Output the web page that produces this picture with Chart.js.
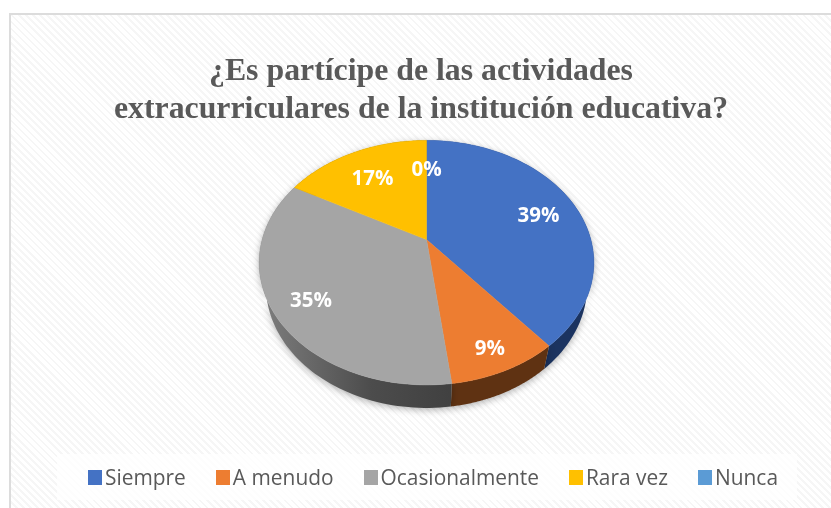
<!DOCTYPE html>
<html>
<head>
<meta charset="utf-8">
<script src="https://cdn.jsdelivr.net/npm/chart.js@4"></script>
<style>
    html, body { margin: 0; padding: 0; background: #fff; }
    #frame { position: relative; width: 831px; height: 508px; overflow: hidden; }
    #panel {
        position: absolute; left: 9px; top: 13px; right: 0; bottom: 0;
        border-top: 2px solid #dcdcdc; border-left: 2px solid #dcdcdc;
        background: repeating-linear-gradient(45deg, #fff 0 3px, #f6f6f6 3px 5px);
    }
    canvas { position: absolute; left: 0; top: 0; }
    #legend {
        position: absolute; left: 57px; top: 454px; width: 709px; height: 46px; padding-left: 31px;
        display: flex; align-items: center; gap: 30px; background: rgba(255,255,255,0.75);
        font: 20.9px "Open Sans", sans-serif; color: #595959;
    }
    #legend div { display: flex; align-items: center; gap: 3px; white-space: nowrap; }
    #legend span { display: block; width: 14px; height: 15px; }
</style>
</head>
<body>
<div id="frame">
    <div id="panel"></div>
    <canvas id="pie" width="831" height="508"></canvas>
    <div id="legend"></div>
</div>
<script>
const categories = ['Siempre', 'A menudo', 'Ocasionalmente', 'Rara vez', 'Nunca'];
const percents = [39, 9, 35, 17, 0];
const titleLines = ['¿Es partícipe de las actividades', 'extracurriculares de la institución educativa?'];
const sliceColors = ['#4472C4', '#ED7D31', '#A5A5A5', '#FFC000', '#5B9BD5'];
const rimColors = ['#1b3360', '#5f3212', '#4a4a4a', '#7f6000', '#2e5f8e'];

// how far along the radius each percent label sits
const labelReach = [0.76, 0.83, 0.78, 0.72, 0.72];

const tilt = 122 / 167;       // ellipse height / width
const apexShift = -23 / 122;  // the tip of the slices sits above the ellipse centre
const depth = 23;
const pieShiftX = 5.5;

// perspective view of a flat disc: circle -> ellipse with the centre moved up
function project(el, t, reach) {
    const rx = el.outerRadius, ry = rx * tilt;
    const x = Math.cos(t) * reach, y = Math.sin(t) * reach;
    const w = 1 + apexShift * y;
    return {
        x: el.x + pieShiftX + rx * Math.sqrt(1 - apexShift * apexShift) * x / w,
        y: el.y + ry * (y + apexShift) / w
    };
}

const pie3d = {
    id: 'pie3d',
    beforeDatasetDraw(chart, args) {
        const ctx = chart.ctx;
        const arcs = args.meta.data;
        const steps = 80;

        // side wall first, the top face hides what is behind it
        ctx.save();
        ctx.shadowColor = 'rgba(0,0,0,0.3)';
        ctx.shadowBlur = 7;
        ctx.shadowOffsetY = 2;
        arcs.forEach((el, i) => {
            if (!percents[i]) return;
            const cx = el.x + pieShiftX;
            ctx.beginPath();
            for (let s = 0; s <= steps; s++) {
                const p = project(el, el.startAngle + (el.endAngle - el.startAngle) * s / steps, 1);
                ctx.lineTo(p.x, p.y);
            }
            for (let s = steps; s >= 0; s--) {
                const p = project(el, el.startAngle + (el.endAngle - el.startAngle) * s / steps, 1);
                ctx.lineTo(cx + (p.x - cx) * 0.96, p.y + depth);
            }
            ctx.closePath();
            if (i === 2) {
                const g = ctx.createLinearGradient(270, 0, 455, 0);
                g.addColorStop(0, '#7a7a7a');
                g.addColorStop(0.55, '#4c4c4c');
                g.addColorStop(1, '#404040');
                ctx.fillStyle = g;
            } else {
                ctx.fillStyle = rimColors[i];
            }
            ctx.fill();
        });
        ctx.restore();

        arcs.forEach((el, i) => {
            if (!percents[i]) return;
            const apex = project(el, 0, 0);
            ctx.beginPath();
            ctx.moveTo(apex.x, apex.y);
            for (let s = 0; s <= steps; s++) {
                const p = project(el, el.startAngle + (el.endAngle - el.startAngle) * s / steps, 1);
                ctx.lineTo(p.x, p.y);
            }
            ctx.closePath();
            ctx.fillStyle = sliceColors[i];
            ctx.strokeStyle = sliceColors[i];
            ctx.lineWidth = 0.5;
            ctx.fill();
            ctx.stroke();
        });

        ctx.font = 'bold 20.5px "Open Sans", sans-serif';
        ctx.fillStyle = '#fff';
        ctx.textAlign = 'center';
        ctx.textBaseline = 'middle';
        arcs.forEach((el, i) => {
            const p = project(el, (el.startAngle + el.endAngle) / 2, labelReach[i]);
            ctx.fillText(percents[i] + '%', p.x, p.y + 5);
        });
        return false;
    }
};

const chart = new Chart(document.getElementById('pie'), {
    type: 'pie',
    data: {
        labels: categories,
        datasets: [{ data: percents, backgroundColor: sliceColors, borderWidth: 0 }]
    },
    plugins: [pie3d],
    options: {
        responsive: false,
        animation: false,
        layout: { padding: { left: 11, right: 0, top: 0, bottom: 78 } },
        plugins: {
            legend: { display: false },
            tooltip: { enabled: false },
            title: {
                display: true,
                text: titleLines,
                color: '#595959',
                font: { family: '"Liberation Serif", serif', size: 31.8, weight: 'bold', lineHeight: 1.2 },
                padding: { top: 53, bottom: -34 }
            }
        }
    }
});

// legend in html so the swatch/text gap can be as tight as the original
const legend = document.getElementById('legend');
chart.data.labels.forEach((label, i) => {
    const item = document.createElement('div');
    const swatch = document.createElement('span');
    swatch.style.background = sliceColors[i];
    item.append(swatch, label);
    legend.append(item);
});
</script>
</body>
</html>
